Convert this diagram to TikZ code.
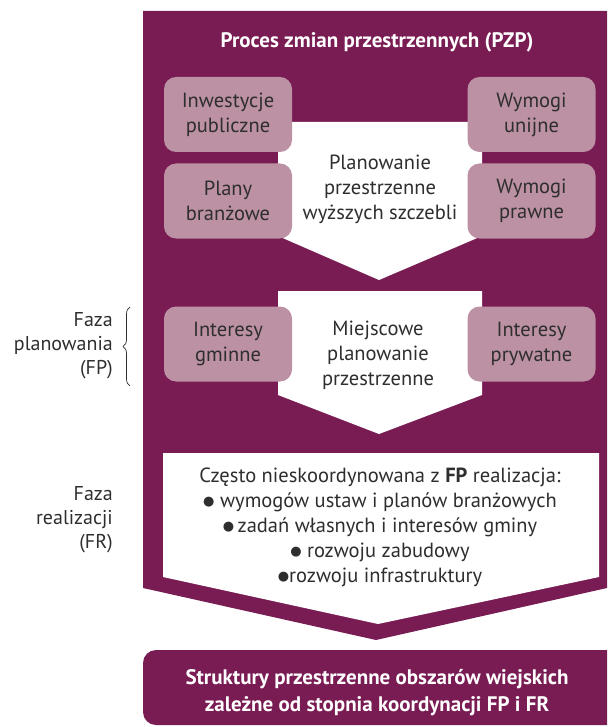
\documentclass[tikz,border=0pt]{standalone}
\usepackage{fontspec}
\setmainfont{PT Sans}
\newfontfamily\dejavu{DejaVu Sans}
\usetikzlibrary{decorations.pathreplacing}
\definecolor{plum}{HTML}{7A1C54}
\definecolor{mauve}{HTML}{BC91A3}
\definecolor{ink}{HTML}{2E2E2E}
\newcommand{\blt}{\raisebox{1.6pt}{\dejavu\fontsize{13}{13}\selectfont ●}}
\begin{document}
\begin{tikzpicture}[x=1pt,y=-1pt,
  txt/.style={font=\fontsize{20.5}{25}\selectfont, text=ink, align=center, inner sep=0pt},
  headtxt/.style={font=\fontsize{21}{27}\selectfont\bfseries, text=white, align=center, inner sep=0pt},
  sidetxt/.style={font=\fontsize{20}{24}\selectfont, text=ink, align=right, inner sep=0pt, anchor=east},
  tile/.style={txt, fill=mauve, rounded corners=12pt, minimum width=128pt, minimum height=75pt},
  whiteshape/.style={fill=white},
  plumshape/.style={fill=plum},
  bracestyle/.style={draw=ink, line width=0.7pt, decorate, decoration={brace, amplitude=7pt}}]
\useasboundingbox (0,0) rectangle (607,727);
\clip (0,0) rectangle (607,727);
% main purple arrow
\path[plumshape] (143,11) -- (607,11) -- (607,588) -- (376,640) -- (143,588) -- cycle;
% white arrows
\path[whiteshape] (278,122) -- (482,122) -- (482,236) -- (379,280) -- (278,236) -- cycle;
\path[whiteshape] (278,291) -- (482,291) -- (482,395) -- (379,434) -- (278,395) -- cycle;
\path[whiteshape] (163,453) -- (599,453) -- (599,577) -- (378,624) -- (163,577) -- cycle;
% bottom box
\path[plumshape, rounded corners=13pt] (143,650) rectangle (640,725);
% title
\node[headtxt] (title) at (377,42) {Proces zmian przestrzennych (PZP)};
% tiles
\node[tile] (inw) at (228,114.5) {Inwestycje\\publiczne};
\node[tile] (wyu) at (531.5,114.5) {Wymogi\\unijne};
\node[tile] (pla) at (228,201) {Plany\\branżowe};
\node[tile] (wyp) at (531.5,201) {Wymogi\\prawne};
\node[txt] (plan) at (380,189) {Planowanie\\przestrzenne\\wyższych szczebli};
\node[tile] (gm) at (228,344) {Interesy\\gminne};
\node[tile] (pr) at (531.5,344) {Interesy\\prywatne};
\node[txt] (miej) at (378,355) {Miejscowe\\planowanie\\przestrzenne};
\node[txt] (real) at (380,527) {Często nieskoordynowana z \textbf{FP} realizacja:\\
  \blt\ wymogów ustaw i planów branżowych\\
  \blt\,zadań własnych i interesów gminy\\
  \blt\ rozwoju zabudowy\\
  \blt rozwoju infrastruktury};
\node[headtxt] (wyn) at (377,693) {Struktury przestrzenne obszarów wiejskich\\zależne od stopnia koordynacji FP i FR};
% side labels
\node[sidetxt] (fp) at (113,346) {Faza\\planowania\\(FP)};
\node[sidetxt] (fr) at (113,520) {Faza\\realizacji\\(FR)};
\coordinate (bA) at (130,386);
\coordinate (bB) at (130,307);
\draw[bracestyle] (bA) -- (bB);
\end{tikzpicture}
\end{document}
